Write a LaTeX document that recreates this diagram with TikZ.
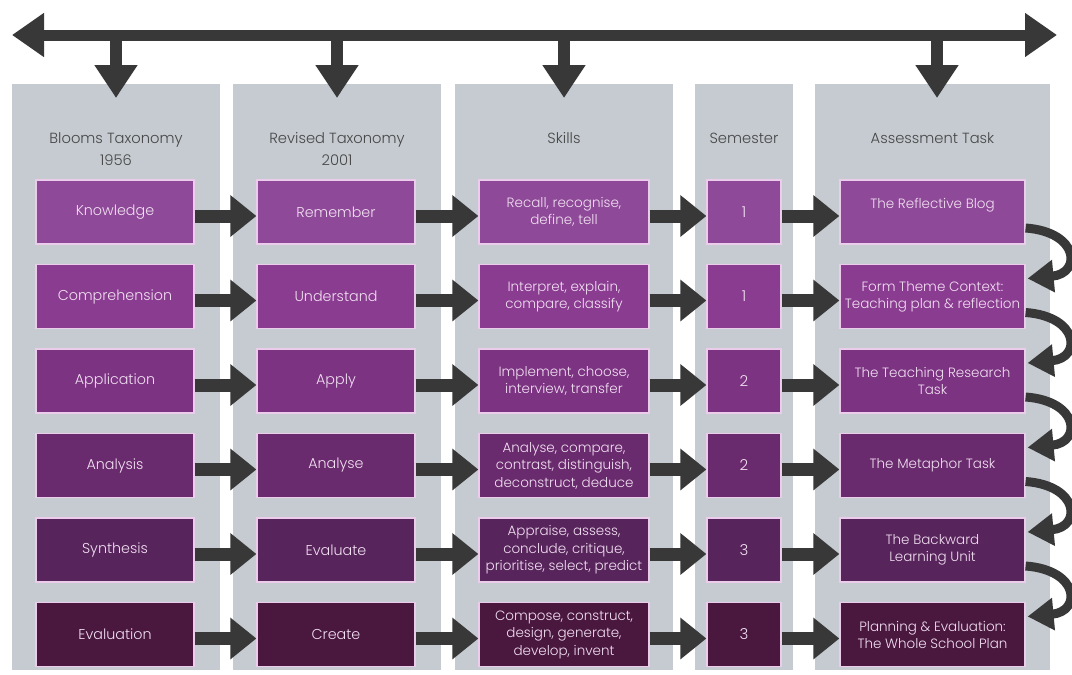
\documentclass[tikz,border=0pt]{standalone}
\usepackage{fontspec}
\IfFontExistsTF{Poppins Light}{\setmainfont{Poppins Light}}{\setmainfont{Poppins}}
\usetikzlibrary{arrows.meta}
\definecolor{panel}{HTML}{C5CBD0}
\definecolor{arr}{HTML}{383838}
\definecolor{rowA}{HTML}{8E4A98}
\definecolor{rowB}{HTML}{8A3C91}
\definecolor{rowC}{HTML}{7B3382}
\definecolor{rowD}{HTML}{692B6D}
\definecolor{rowE}{HTML}{58245C}
\definecolor{rowF}{HTML}{4A173F}
\definecolor{boxline}{HTML}{EBCDEB}
\definecolor{boxtext}{HTML}{F2E0F2}
\definecolor{headtext}{HTML}{474747}
\begin{document}
\begin{tikzpicture}[x=1pt,y=-1pt,
 panelbox/.style={fill=panel, draw=none, inner sep=0pt, minimum height=586pt, anchor=north},
 tbox/.style={draw=boxline, line width=1.2pt, inner sep=1pt, minimum height=64pt, align=center, text=boxtext, font=\fontsize{14.3}{18}\selectfont},
 w1/.style={minimum width=158pt},
 w3/.style={minimum width=170pt, font=\fontsize{13.5}{17.5}\selectfont},
 w4/.style={minimum width=74pt, font=\fontsize{15}{18}\selectfont},
 w5/.style={minimum width=185pt, font=\fontsize{13.5}{17}\selectfont},
 head/.style={text=headtext, align=center, font=\fontsize{14.7}{22}\selectfont},
 bar/.style={draw=arr, line width=11pt, {Triangle[length=32pt,width=42pt]}-{Triangle[length=32pt,width=42pt]}},
 downarrow/.style={draw=arr, line width=12pt, -{Triangle[length=33pt,width=41pt]}},
 harrow/.style={draw=arr, line width=13pt, -{Triangle[length=26pt,width=40pt]}},
 curv/.style={draw=arr, line width=9pt, -{Triangle[length=26pt,width=31pt]}},
]
\fill[white] (0,0) rectangle (1072,675);
\useasboundingbox (0,0) rectangle (1072,675);

% panels
\node[panelbox, minimum width=208pt] (p1) at (116,84) {};
\node[panelbox, minimum width=208pt] (p2) at (337,84) {};
\node[panelbox, minimum width=218pt] (p3) at (564,84) {};
\node[panelbox, minimum width=98pt]  (p4) at (744,84) {};
\node[panelbox, minimum width=235pt] (p5) at (932.5,84) {};

% top bar and down arrows
\coordinate (L) at (12,35);
\coordinate (R) at (1057,35);
\draw[bar] (L) -- (R);
\coordinate (t1) at (116,35);
\coordinate (t2) at (337,35);
\coordinate (t3) at (564,35);
\coordinate (t5) at (937,35);
\draw[downarrow] (t1) -- ([yshift=-14pt]p1.north);
\draw[downarrow] (t2) -- ([yshift=-14pt]p2.north);
\draw[downarrow] (t3) -- ([yshift=-14pt]p3.north);
\draw[downarrow] (t5) -- ([yshift=-14pt,xshift=4.5pt]p5.north);

% headers
\node[head] (h1) at (116,149) {Blooms Taxonomy\\1956};
\node[head] (h2) at (337,149) {Revised Taxonomy\\2001};
\node[head] (h3) at (564,138) {Skills};
\node[head] (h4) at (744,138) {Semester};
\node[head] (h5) at (932.5,138) {Assessment Task};

% column 1
\node[tbox,w1,fill=rowA] (a1) at (115,212) {Knowledge};
\node[tbox,w1,fill=rowB] (a2) at (115,296.5) {Comprehension};
\node[tbox,w1,fill=rowC] (a3) at (115,381) {Application};
\node[tbox,w1,fill=rowD] (a4) at (115,465.5) {Analysis};
\node[tbox,w1,fill=rowE] (a5) at (115,550) {Synthesis};
\node[tbox,w1,fill=rowF] (a6) at (115,634.5) {Evaluation};
% column 2
\node[tbox,w1,fill=rowA] (b1) at (336,212) {Remember};
\node[tbox,w1,fill=rowB] (b2) at (336,296.5) {Understand};
\node[tbox,w1,fill=rowC] (b3) at (336,381) {Apply};
\node[tbox,w1,fill=rowD] (b4) at (336,465.5) {Analyse};
\node[tbox,w1,fill=rowE] (b5) at (336,550) {Evaluate};
\node[tbox,w1,fill=rowF] (b6) at (336,634.5) {Create};
% column 3
\node[tbox,w3,fill=rowA] (c1) at (564,212) {Recall, recognise,\\define, tell};
\node[tbox,w3,fill=rowB] (c2) at (564,296.5) {Interpret, explain,\\compare, classify};
\node[tbox,w3,fill=rowC] (c3) at (564,381) {Implement, choose,\\interview, transfer};
\node[tbox,w3,fill=rowD] (c4) at (564,465.5) {Analyse, compare,\\contrast, distinguish,\\deconstruct, deduce};
\node[tbox,w3,fill=rowE] (c5) at (564,550) {Appraise, assess,\\conclude, critique,\\prioritise, select, predict};
\node[tbox,w3,fill=rowF] (c6) at (564,634.5) {Compose, construct,\\design, generate,\\develop, invent};
% column 4
\node[tbox,w4,fill=rowA] (d1) at (744,212) {1};
\node[tbox,w4,fill=rowB] (d2) at (744,296.5) {1};
\node[tbox,w4,fill=rowC] (d3) at (744,381) {2};
\node[tbox,w4,fill=rowD] (d4) at (744,465.5) {2};
\node[tbox,w4,fill=rowE] (d5) at (744,550) {3};
\node[tbox,w4,fill=rowF] (d6) at (744,634.5) {3};
% column 5
\node[tbox,w5,fill=rowA] (e1) at (932.5,212) {The Reflective Blog\\[1pt]};
\node[tbox,w5,fill=rowB] (e2) at (932.5,296.5) {Form Theme Context:\\Teaching plan \& reflection};
\node[tbox,w5,fill=rowC] (e3) at (932.5,381) {The Teaching Research\\Task};
\node[tbox,w5,fill=rowD] (e4) at (932.5,465.5) {The Metaphor Task};
\node[tbox,w5,fill=rowE] (e5) at (932.5,550) {The Backward\\Learning Unit};
\node[tbox,w5,fill=rowF] (e6) at (932.5,634.5) {Planning \& Evaluation:\\The Whole School Plan};

% horizontal arrows
\foreach \i in {1,...,6}{
  \draw[harrow] ([yshift=-4pt]a\i.east) -- ([yshift=-4pt]b\i.west);
  \draw[harrow] ([yshift=-4pt]b\i.east) -- ([yshift=-4pt]c\i.west);
  \draw[harrow] ([yshift=-4pt]c\i.east) -- ([yshift=-4pt]d\i.west);
  \draw[harrow] ([yshift=-4pt]d\i.east) -- ([yshift=-4pt]e\i.west);
}
% curved arrows
\foreach \i/\j in {1/2,2/3,3/4,4/5,5/6}{
  \draw[curv] ([yshift=-16pt]e\i.east) .. controls +(54pt,-4pt) and +(54pt,5pt) .. ([yshift=18pt,xshift=2pt]e\j.east);
}
\end{tikzpicture}
\end{document}
